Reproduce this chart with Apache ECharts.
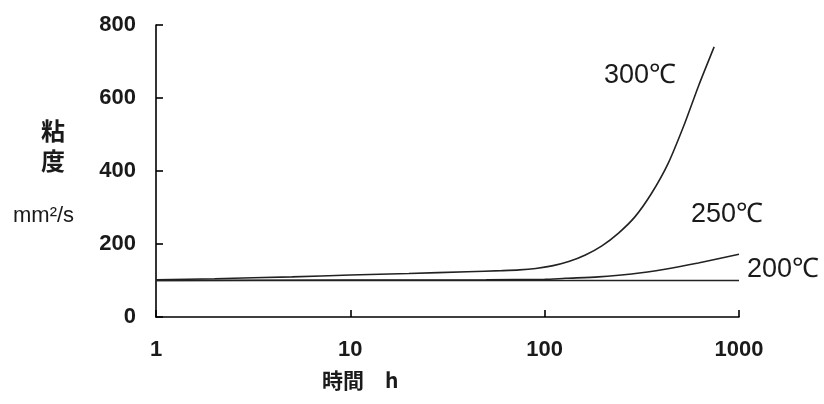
<!DOCTYPE html>
<html><head><meta charset="utf-8">
<script src="https://cdn.jsdelivr.net/npm/echarts@6/dist/echarts.min.js"></script>
<style>html,body{margin:0;padding:0;background:#fff}#c{width:824px;height:404px}</style>
</head><body><div id="c"></div>
<script>
// Data
const hours300 = [1, 2, 5, 10, 20, 40, 60, 74, 90, 109, 133, 162, 197, 240, 292, 355, 432, 526, 617, 745];
const visc300  = [102, 105, 110, 115, 119, 124, 127, 129, 133, 140, 152, 170, 195, 230, 275, 339, 421, 531, 631, 740];
const hours250 = [1, 10, 50, 100, 128, 189, 280, 416, 617, 1000];
const visc250  = [100, 101, 102, 103, 106, 110, 118, 131, 148, 172];
const hours200 = [1, 1000];
const visc200  = [100, 100];
const seriesNames = ['300℃', '250℃', '200℃'];
const yTicks = [0, 200, 400, 600, 800];
const xTicks = [1, 10, 100, 1000];
const xTitle = '時間　h';
const yTitle1 = '粘';
const yTitle2 = '度';
const yUnit = 'mm²/s';

const zip = (xs, ys) => xs.map((x, i) => [x, ys[i]]);
const FONT = '"Liberation Sans",Arial,sans-serif';
const chart = echarts.init(document.getElementById('c'), null, {renderer: 'canvas'});
const lineStyle = {color: '#222', width: 1.6};
chart.setOption({
  animation: false,
  backgroundColor: '#fff',
  grid: {left: 156, right: 85, top: 25, bottom: 87},
  xAxis: {
    type: 'log', logBase: 10, min: 1, max: 1000,
    axisLine: {lineStyle: {color: '#000', width: 1.6}},
    axisTick: {inside: true, length: 7, lineStyle: {color: '#000', width: 1.6}},
    minorTick: {show: false},
    splitLine: {show: false},
    axisLabel: {color: '#1a1a1a', fontSize: 22, fontWeight: 'bold', fontFamily: FONT, margin: 22,
      formatter: v => xTicks.includes(Math.round(v)) ? String(Math.round(v)) : ''}
  },
  yAxis: {
    type: 'value', min: 0, max: 800, interval: 200,
    axisLine: {show: true, lineStyle: {color: '#000', width: 1.6}},
    axisTick: {show: true, inside: true, length: 7, lineStyle: {color: '#000', width: 1.6}},
    splitLine: {show: false},
    axisLabel: {color: '#1a1a1a', fontSize: 22, fontWeight: 'bold', fontFamily: FONT, margin: 20,
      formatter: v => yTicks.includes(v) ? String(v) : ''}
  },
  series: [
    {name: seriesNames[0], type: 'line', data: zip(hours300, visc300), smooth: 0.25, showSymbol: false, lineStyle},
    {name: seriesNames[1], type: 'line', data: zip(hours250, visc250), smooth: 0.25, showSymbol: false, lineStyle},
    {name: seriesNames[2], type: 'line', data: zip(hours200, visc200), showSymbol: false, lineStyle}
  ],
  graphic: [
    {type: 'text', left: 41, top: 119, style: {text: yTitle1, font: 'bold 24px "Noto Sans CJK JP"', fill: '#1a1a1a'}},
    {type: 'text', left: 41, top: 149, style: {text: yTitle2, font: 'bold 24px "Noto Sans CJK JP"', fill: '#1a1a1a'}},
    {type: 'text', left: 13, top: 205, style: {text: yUnit, font: '22px ' + FONT, fill: '#1a1a1a'}},
    {type: 'text', left: 322, top: 370, style: {text: xTitle, font: 'bold 21px "Noto Sans CJK JP"', fill: '#1a1a1a'}},
    {type: 'text', left: 604, top: 62, style: {text: seriesNames[0], font: '27px ' + FONT, fill: '#1a1a1a'}},
    {type: 'text', left: 691, top: 201, style: {text: seriesNames[1], font: '27px ' + FONT, fill: '#1a1a1a'}},
    {type: 'text', left: 747, top: 256, style: {text: seriesNames[2], font: '27px ' + FONT, fill: '#1a1a1a'}}
  ]
});
</script></body></html>
